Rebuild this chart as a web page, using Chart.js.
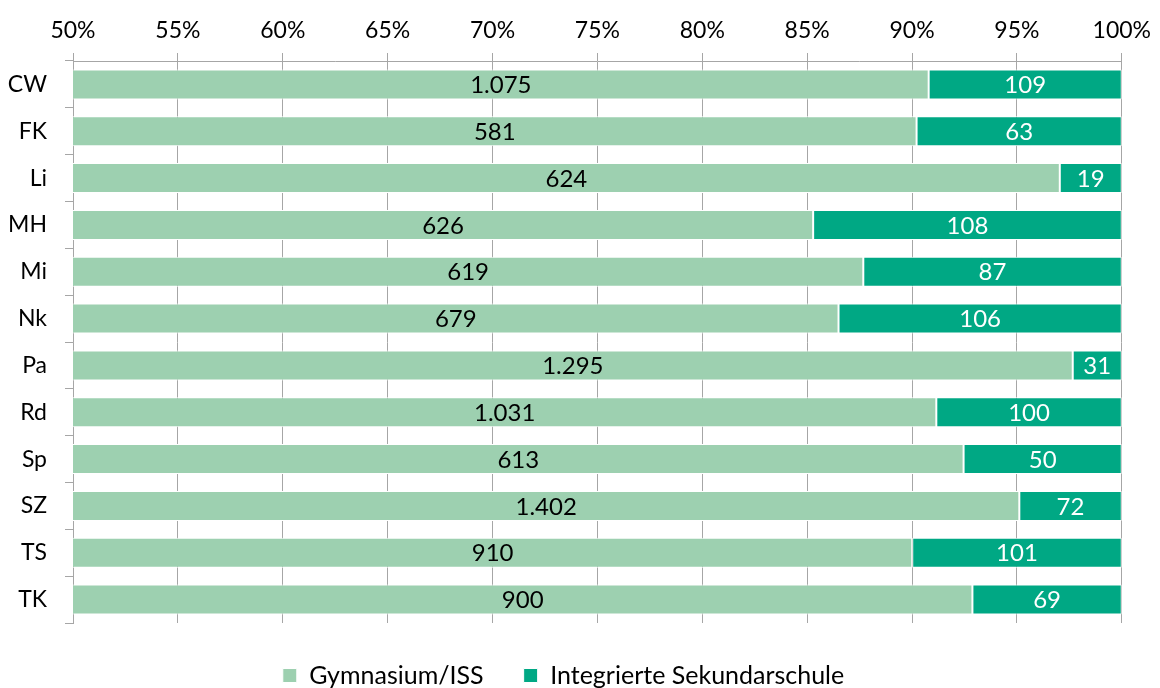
<!DOCTYPE html>
<html>
<head>
<meta charset="utf-8">
<script src="https://cdn.jsdelivr.net/npm/chart.js@4/dist/chart.umd.min.js"></script>
<style>
  html, body { margin: 0; padding: 0; background: #fff; }
  #wrap { width: 1160px; height: 688px; }
</style>
</head>
<body>
<div id="wrap"><canvas id="chart"></canvas></div>
<script>
// Bezirke
const bezirke = ['CW', 'FK', 'Li', 'MH', 'Mi', 'Nk', 'Pa', 'Rd', 'Sp', 'SZ', 'TS', 'TK'];
// Anzahl Schüler
const gymnasium = [1075, 581, 624, 626, 619, 679, 1295, 1031, 613, 1402, 910, 900];
const sekundarschule = [109, 63, 19, 108, 87, 106, 31, 100, 50, 72, 101, 69];

const FONT = 'Lato, "Open Sans", sans-serif';

// Anteile für die 100%-Darstellung
const anteilGym = gymnasium.map((g, i) => g / (g + sekundarschule[i]) * 100);
const anteilISS = sekundarschule.map((s, i) => s / (gymnasium[i] + s) * 100);

// Zahlen mittig in den sichtbaren Teil der Balken schreiben
const balkenLabels = {
    id: 'balkenLabels',
    afterDatasetsDraw(chart) {
        const ctx = chart.ctx;
        const area = chart.chartArea;
        const roh = [gymnasium, sekundarschule];
        const farben = ['#000000', '#ffffff'];
        ctx.save();
        ctx.font = '24px ' + FONT;
        ctx.textAlign = 'center';
        ctx.textBaseline = 'middle';
        chart.data.datasets.forEach((ds, d) => {
            chart.getDatasetMeta(d).data.forEach((bar, i) => {
                const start = Math.max(Math.min(bar.base, bar.x), area.left);
                const end = Math.max(bar.base, bar.x);
                ctx.fillStyle = farben[d];
                ctx.fillText(roh[d][i].toLocaleString('de-DE'), (start + end) / 2, bar.y + 1);
            });
        });
        ctx.restore();
    }
};

const ctx = document.getElementById('chart').getContext('2d');
const chart = new Chart(ctx, {
    type: 'bar',
    data: {
        labels: bezirke,
        datasets: [{
            label: 'Gymnasium/ISS',
            data: anteilGym,
            backgroundColor: '#9dd0b0',
            borderColor: '#ffffff',
            borderWidth: 1,
            borderSkipped: false,
        }, {
            label: 'Integrierte Sekundarschule',
            data: anteilISS,
            backgroundColor: '#00a884',
            borderColor: '#ffffff',
            borderWidth: 1,
            borderSkipped: false,
        }]
    },
    options: {
        indexAxis: 'y',
        responsive: true,
        maintainAspectRatio: false,
        animation: false,
        categoryPercentage: 1,
        barPercentage: 0.64,
        layout: { padding: { left: 0, right: 33, top: 0, bottom: -10 } },
        scales: {
            x: {
                position: 'top',
                stacked: true,
                min: 50,
                max: 100,
                afterFit(scale) { scale.height = 61; },
                ticks: {
                    stepSize: 5,
                    padding: 9,
                    color: '#000',
                    font: { family: FONT, size: 23 },
                    callback: v => v + '%'
                },
                grid: { color: '#a6a6a6', tickLength: 8, lineWidth: 1 },
                border: { color: '#a6a6a6' }
            },
            y: {
                stacked: true,
                afterFit(scale) { scale.width = 73; },
                ticks: {
                    padding: 18,
                    color: '#000',
                    font: { family: FONT, size: 23 }
                },
                grid: { offset: true, drawOnChartArea: false, color: '#a6a6a6', tickLength: 8 },
                border: { color: '#a6a6a6' }
            }
        },
        plugins: {
            legend: {
                position: 'bottom',
                labels: {
                    boxWidth: 14,
                    boxHeight: 14,
                    padding: 40,
                    color: '#000',
                    font: { family: FONT, size: 25 }
                }
            },
            tooltip: { enabled: false }
        }
    },
    plugins: [balkenLabels]
});
</script>
</body>
</html>
